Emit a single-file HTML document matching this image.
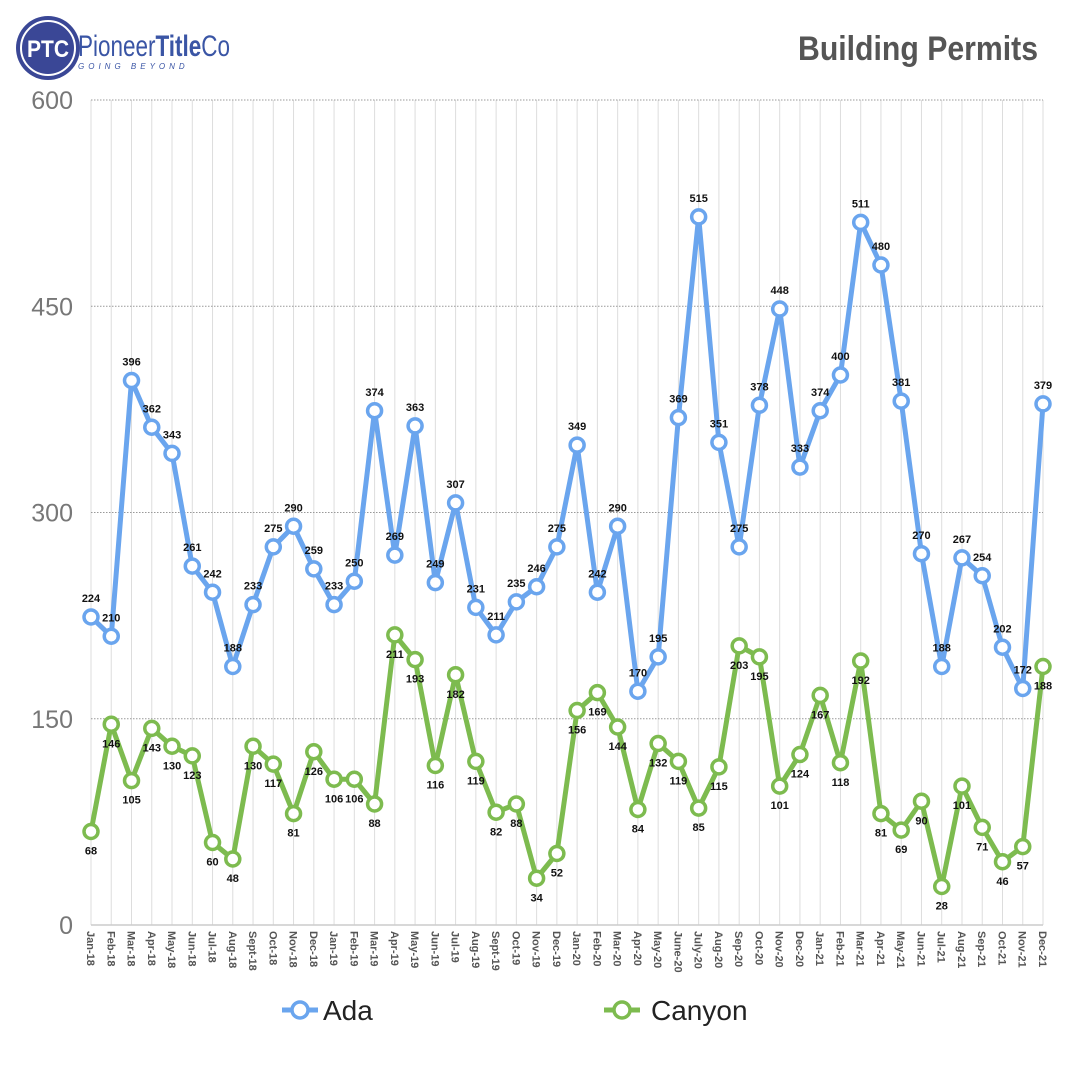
<!DOCTYPE html>
<html><head><meta charset="utf-8"><style>
body{margin:0;background:#fff;width:1080px;height:1080px;overflow:hidden}
</style></head><body>
<svg id="s" width="1080" height="1080" xmlns="http://www.w3.org/2000/svg" font-family="Liberation Sans, sans-serif">
<circle cx="48" cy="48" r="32" fill="#3a4796"/>
<circle cx="48" cy="48" r="27" fill="none" stroke="#fff" stroke-width="2"/>
<text x="48" y="57" text-anchor="middle" fill="#fff" font-size="24" font-weight="bold" textLength="42" lengthAdjust="spacingAndGlyphs">PTC</text>
<text x="78" y="56" fill="#3a55a5" font-size="30" textLength="152" lengthAdjust="spacingAndGlyphs">Pioneer<tspan font-weight="bold">Title</tspan>Co</text>
<text x="78" y="69" fill="#3a55a5" font-size="8" font-style="italic" letter-spacing="4">GOING BEYOND</text>
<text x="1038" y="60" text-anchor="end" fill="#555" font-size="34" font-weight="bold" textLength="240" lengthAdjust="spacingAndGlyphs">Building Permits</text>
<g id="g"></g>
</svg>
<script>
const ada=[224,210,396,362,343,261,242,188,233,275,290,259,233,250,374,269,363,249,307,231,211,235,246,275,349,242,290,170,195,369,515,351,275,378,448,333,374,400,511,480,381,270,188,267,254,202,172,379];
const can=[68,146,105,143,130,123,60,48,130,117,81,126,106,106,88,211,193,116,182,119,82,88,34,52,156,169,144,84,132,119,85,115,203,195,101,124,167,118,192,81,69,90,28,101,71,46,57,188];
const mon=["Jan","Feb","Mar","Apr","May","Jun","Jul","Aug","Sept","Oct","Nov","Dec"];
const labs=[];
for(let y=18;y<=21;y++)for(let m=0;m<12;m++){let n=mon[m];
 if(y==20&&m==5)n="June";if(y==20&&m==6)n="July";if(y>=20&&m==8)n="Sep";labs.push(n+"-"+y);}
const X=i=>91+i*(1043-91)/47, Y=v=>925-v*825/600;
let h="";
for(let i=0;i<48;i++)h+=`<line x1="${X(i)}" y1="100" x2="${X(i)}" y2="925" stroke="#ddd" stroke-width="1"/>`;
[150,300,450,600].forEach(v=>h+=`<line x1="91" y1="${Y(v)}" x2="1043" y2="${Y(v)}" stroke="#999" stroke-width="1" stroke-dasharray="1.5,1.5"/>`);
h+=`<line x1="91" y1="925" x2="1043" y2="925" stroke="#ccc" stroke-width="1.5"/>`;
[0,150,300,450,600].forEach(v=>h+=`<text x="73" y="${Y(v)+9}" text-anchor="end" font-size="25" fill="#777">${v}</text>`);
labs.forEach((l,i)=>h+=`<text transform="translate(${X(i)-4},931) rotate(90)" font-size="11" font-weight="bold" fill="#555">${l}</text>`);
function ser(d,c,up){
 h+=`<polyline points="${d.map((v,i)=>X(i)+","+Y(v)).join(" ")}" fill="none" stroke="${c}" stroke-width="5" stroke-linejoin="round"/>`;
 d.forEach((v,i)=>{h+=`<circle cx="${X(i)}" cy="${Y(v)}" r="7" fill="#fff" stroke="${c}" stroke-width="3.5"/>`;
 h+=`<text x="${X(i)}" y="${up?Y(v)-15:Y(v)+23}" text-anchor="middle" font-size="11" font-weight="bold" fill="#111">${v}</text>`;});
}
ser(ada,"#6aa5ee",1);ser(can,"#7dbb4f",0);
h+=`<line x1="282" y1="1010" x2="318" y2="1010" stroke="#6aa5ee" stroke-width="5"/><circle cx="300" cy="1010" r="8" fill="#fff" stroke="#6aa5ee" stroke-width="3.5"/><text x="323" y="1020" font-size="28" fill="#222">Ada</text>`;
h+=`<line x1="604" y1="1010" x2="640" y2="1010" stroke="#7dbb4f" stroke-width="5"/><circle cx="622" cy="1010" r="8" fill="#fff" stroke="#7dbb4f" stroke-width="3.5"/><text x="651" y="1020" font-size="28" fill="#222">Canyon</text>`;
document.getElementById("g").innerHTML=h;
</script>
</body></html>
